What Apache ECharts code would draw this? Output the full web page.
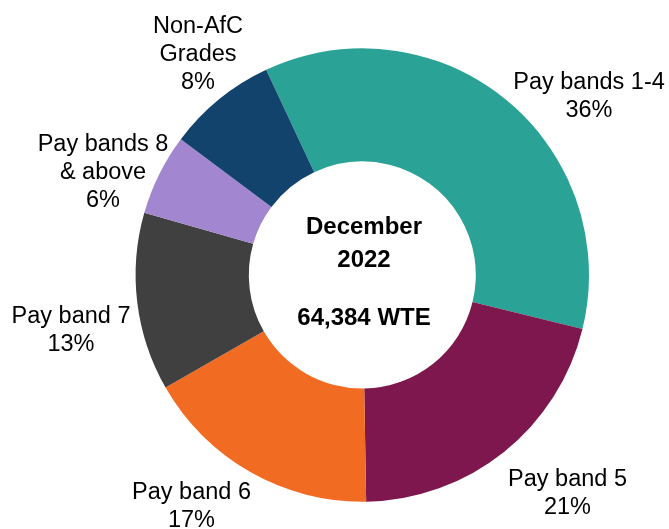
<!DOCTYPE html>
<html>
<head>
<meta charset="utf-8">
<script src="https://cdn.jsdelivr.net/npm/echarts@6/dist/echarts.min.js"></script>
<style>html,body{margin:0;padding:0;background:#fff;}#c{width:669px;height:529px;}</style>
</head>
<body>
<div id="c"></div>
<script>
// Data (WTE by pay band, December 2022)
const categories = ['Pay bands 1-4', 'Pay band 5', 'Pay band 6', 'Pay band 7', 'Pay bands 8\n& above', 'Non-AfC\nGrades'];
const values = [23050, 13456, 10945, 8177, 3734, 5022];
const colors = ['#2AA396', '#7E174D', '#F26B23', '#404040', '#A386D0', '#12436D'];
const centerLines = ['December', '2022', '64,384 WTE'];

// Layout (label anchor positions, px)
const labelPos = [[589, 97], [567.5, 494], [191.5, 507], [71, 330.5], [103, 172.5], [198, 54.5]];

const total = values.reduce((a, b) => a + b, 0);
const font = "'Liberation Sans', Arial, sans-serif";

const chart = echarts.init(document.getElementById('c'), null, {renderer: 'canvas'});
chart.setOption({
  animation: false,
  backgroundColor: '#ffffff',
  series: [{
    type: 'pie',
    center: [362.3, 275],
    radius: [113.5, 226.7],
    startAngle: 115.1,
    clockwise: true,
    avoidLabelOverlap: false,
    silent: true,
    emphasis: {disabled: true},
    itemStyle: {borderWidth: 0},
    label: {
      show: true,
      position: 'outside',
      color: '#000',
      fontFamily: font,
      fontSize: 23.5,
      lineHeight: 28,
      align: 'center',
      formatter: p => p.name + '\n' + Math.round(p.value / total * 100) + '%'
    },
    labelLine: {show: false},
    labelLayout: params => {
      const p = labelPos[params.dataIndex];
      return {x: p[0], y: p[1], align: 'center', verticalAlign: 'middle'};
    },
    data: categories.map((n, i) => ({name: n, value: values[i], itemStyle: {color: colors[i]}}))
  }],
  graphic: [
    {type: 'text', x: 364, y: 227.5, style: {text: centerLines[0], fill: '#000', font: 'bold 24px ' + font, textAlign: 'center', textVerticalAlign: 'middle'}},
    {type: 'text', x: 364, y: 260, style: {text: centerLines[1], fill: '#000', font: 'bold 24px ' + font, textAlign: 'center', textVerticalAlign: 'middle'}},
    {type: 'text', x: 364, y: 318.3, style: {text: centerLines[2], fill: '#000', font: 'bold 24px ' + font, textAlign: 'center', textVerticalAlign: 'middle'}}
  ]
});
</script>
</body>
</html>
